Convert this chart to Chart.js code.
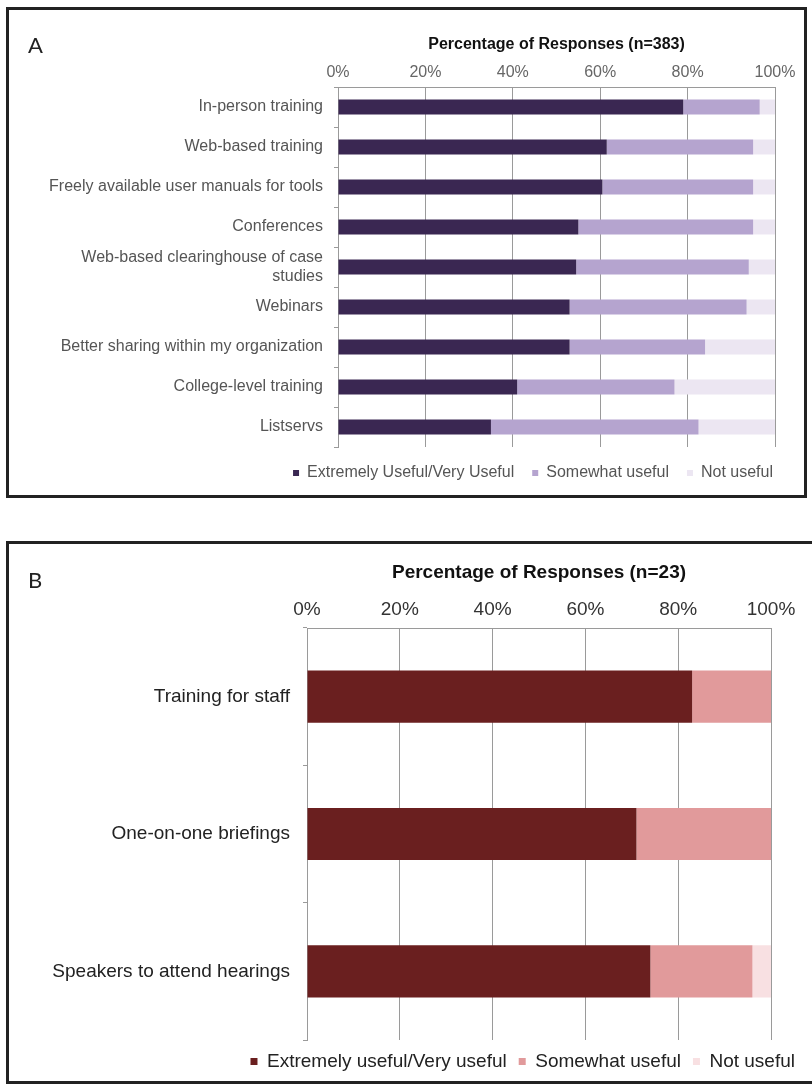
<!DOCTYPE html>
<html>
<head>
<meta charset="utf-8">
<script src="https://cdn.jsdelivr.net/npm/chart.js@4"></script>
<style>
  body { margin: 0; background: #fff; }
  .panel { position: absolute; border: 3px solid #222; background: #fff; }
  .panel canvas { position: absolute; left: 0; top: 0; }
  .tag { position: absolute; font-family: Lato, "DejaVu Sans", sans-serif; font-size: 22px; color: #222; }
</style>
</head>
<body>
<div class="panel" id="boxA" style="left:6px; top:7px; width:795px; height:485px;">
  <canvas id="chartA" width="795" height="485"></canvas>
  <div class="tag" style="left:19px; top:21px;">A</div>
</div>
<div class="panel" id="boxB" style="left:6px; top:541px; width:830px; height:537px;">
  <canvas id="chartB" width="803" height="537"></canvas>
  <div class="tag" style="left:19px; top:22px;">B</div>
</div>
<script>
// panel A data
const categoriesA = [
    "In-person training",
    "Web-based training",
    "Freely available user manuals for tools",
    "Conferences",
    ["Web-based clearinghouse of case", "studies"],
    "Webinars",
    "Better sharing within my organization",
    "College-level training",
    "Listservs"
];
const extremeA = [79, 61.5, 60.5, 55, 54.5, 53, 53, 41, 35];
const somewhatA = [17.5, 33.5, 34.5, 40, 39.5, 40.5, 31, 36, 47.5];
const notUsefulA = [3.5, 5, 5, 5, 6, 6.5, 16, 23, 17.5];
const seriesA = ["Extremely Useful/Very Useful", "Somewhat useful", "Not useful"];

// panel B data
const categoriesB = ["Training for staff", "One-on-one briefings", "Speakers to attend hearings"];
const extremeB = [83, 71, 74];
const somewhatB = [17, 29, 22];
const notUsefulB = [0, 0, 4];
const seriesB = ["Extremely useful/Very useful", "Somewhat useful", "Not useful"];

const tickValues = [0, 20, 40, 60, 80, 100];

function makeChart(id, cfg) {
    const ds = cfg.series.map((name, i) => ({
        label: name,
        data: cfg.values[i],
        backgroundColor: cfg.colors[i],
        borderWidth: 0,
        barPercentage: cfg.barPct,
        categoryPercentage: 1
    }));

    return new Chart(document.getElementById(id), {
        type: 'bar',
        data: { labels: cfg.labels, datasets: ds },
        options: {
            indexAxis: 'y',
            responsive: false,
            animation: false,
            layout: { padding: { left: 0, top: 0, right: cfg.padRight, bottom: cfg.padBottom } },
            scales: {
                x: {
                    position: 'top',
                    stacked: true,
                    min: 0,
                    max: 100,
                    afterBuildTicks: s => { s.ticks = tickValues.map(v => ({ value: v })); },
                    ticks: {
                        callback: v => v + '%',
                        color: cfg.tickColor,
                        font: { family: 'Liberation Sans', size: cfg.fontSize },
                        padding: cfg.tickPad,
                        maxRotation: 0
                    },
                    grid: { color: '#9a9a9a', drawTicks: false },
                    border: { color: '#9a9a9a' },
                    title: {
                        display: true,
                        text: cfg.title,
                        color: '#111',
                        font: { family: 'Liberation Sans', size: cfg.titleSize, weight: 'bold' },
                        padding: { top: cfg.titlePad, bottom: 0 }
                    },
                    afterFit: s => { s.height = cfg.top; }
                },
                y: {
                    stacked: true,
                    grid: { drawOnChartArea: false, tickLength: 4, color: '#9a9a9a' },
                    border: { color: '#9a9a9a' },
                    ticks: {
                        autoSkip: false,
                        color: cfg.labelColor,
                        font: { family: 'Liberation Sans', size: cfg.fontSize },
                        padding: cfg.labelPad
                    },
                    afterFit: s => { s.width = cfg.left; }
                },
                spacer: {
                    type: 'linear',
                    axis: 'y',
                    position: 'right',
                    grid: { display: false },
                    border: { display: false },
                    ticks: { display: false },
                    afterFit: s => { s.width = cfg.spacer; }
                }
            },
            plugins: {
                legend: {
                    position: 'bottom',
                    align: 'end',
                    labels: {
                        color: cfg.labelColor,
                        font: { family: 'Liberation Sans', size: cfg.fontSize },
                        boxWidth: cfg.box,
                        boxHeight: cfg.box,
                        padding: cfg.legendPad
                    }
                },
                tooltip: { enabled: false }
            }
        }
    });
}

makeChart('chartA', {
    labels: categoriesA,
    series: seriesA,
    values: [extremeA, somewhatA, notUsefulA],
    colors: ['#3a2752', '#b5a4cf', '#ece6f2'],
    barPct: 0.375,
    title: 'Percentage of Responses (n=383)',
    titleSize: 16,
    titlePad: 25,
    fontSize: 16,
    tickPad: 5,
    tickColor: '#666',
    labelColor: '#555',
    labelPad: 11,
    legendPad: 18,
    box: 6,
    top: 77,
    left: 329,
    padRight: 13,
    spacer: 16,
    padBottom: 4
});

makeChart('chartB', {
    labels: categoriesB,
    series: seriesB,
    values: [extremeB, somewhatB, notUsefulB],
    colors: ['#6a1f1f', '#e19a9b', '#f8e0e2'],
    barPct: 0.38,
    title: 'Percentage of Responses (n=23)',
    titleSize: 19,
    titlePad: 17,
    fontSize: 19,
    tickPad: 7,
    tickColor: '#333',
    labelColor: '#222',
    labelPad: 13,
    legendPad: 12,
    box: 7,
    top: 84,
    left: 298,
    padRight: 5,
    spacer: 36,
    padBottom: 0
});
</script>
</body>
</html>
